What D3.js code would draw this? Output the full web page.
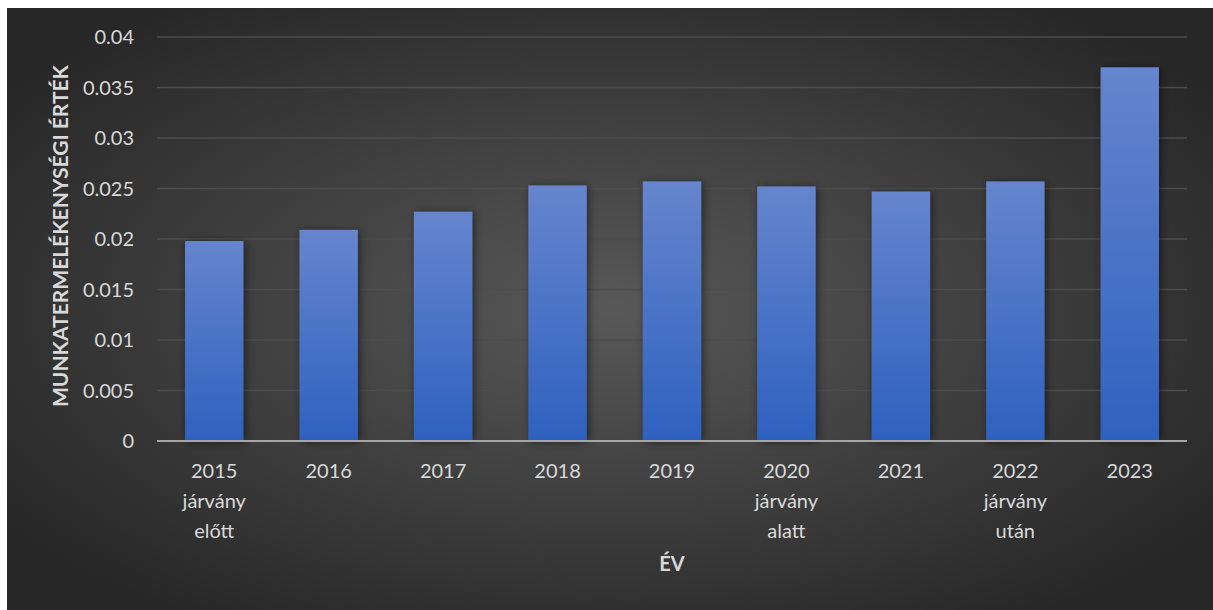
<!DOCTYPE html>
<html>
<head>
<meta charset="utf-8">
<script src="https://cdn.jsdelivr.net/npm/d3@7"></script>
<style>
  body { margin: 0; background: #fff; }
  svg { display: block; font-family: Lato, "Open Sans", sans-serif; }
</style>
</head>
<body>
<svg id="chart" width="1213" height="610"></svg>
<script>
// chart data
var categories = [
  ['2015', 'járvány', 'előtt'],
  ['2016'],
  ['2017'],
  ['2018'],
  ['2019'],
  ['2020', 'járvány', 'alatt'],
  ['2021'],
  ['2022', 'járvány', 'után'],
  ['2023']
];
var values = [0.0198, 0.0209, 0.0227, 0.0253, 0.0257, 0.0252, 0.0247, 0.0257, 0.0370];
var yTicks = [0, 0.005, 0.01, 0.015, 0.02, 0.025, 0.03, 0.035, 0.04];
var yTitle = 'MUNKATERMELÉKENYSÉGI ÉRTÉK';
var xTitle = 'ÉV';

var svg = d3.select('#chart');
var defs = svg.append('defs');

var bg = defs.append('radialGradient').attr('id', 'bg')
  .attr('cx', '50%').attr('cy', '50%').attr('r', '62%');
bg.append('stop').attr('offset', '0%').attr('stop-color', '#585858');
bg.append('stop').attr('offset', '100%').attr('stop-color', '#272727');

var barGrad = defs.append('linearGradient').attr('id', 'bar')
  .attr('x1', 0).attr('y1', 0).attr('x2', 0).attr('y2', 1);
barGrad.append('stop').attr('offset', '0%').attr('stop-color', '#6685cd');
barGrad.append('stop').attr('offset', '100%').attr('stop-color', '#2e61bf');

var shadow = defs.append('filter').attr('id', 'shadow')
  .attr('x', '-30%').attr('y', '-10%').attr('width', '160%').attr('height', '120%');
shadow.append('feGaussianBlur').attr('in', 'SourceAlpha').attr('stdDeviation', 4).attr('result', 'b');
shadow.append('feOffset').attr('in', 'b').attr('dx', 2).attr('dy', 1).attr('result', 'o');
shadow.append('feComponentTransfer').attr('in', 'o').attr('result', 's')
  .append('feFuncA').attr('type', 'linear').attr('slope', 0.5);
var merge = shadow.append('feMerge');
merge.append('feMergeNode').attr('in', 's');
merge.append('feMergeNode').attr('in', 'SourceGraphic');

svg.append('rect')
  .attr('x', 7).attr('y', 8).attr('width', 1206).attr('height', 602)
  .attr('fill', 'url(#bg)');

var plotLeft = 157, plotRight = 1187, plotTop = 37, plotBottom = 441;

var x = d3.scaleBand()
  .domain(categories.map(function (c) { return c[0]; }))
  .range([plotLeft, plotRight])
  .paddingInner(0.49)
  .paddingOuter(0.245);

var y = d3.scaleLinear().domain([0, 0.04]).range([plotBottom, plotTop]);

// gridlines
svg.append('g')
  .selectAll('line')
  .data(yTicks.filter(function (t) { return t > 0; }))
  .enter().append('line')
  .attr('x1', plotLeft).attr('x2', plotRight)
  .attr('y1', function (d) { return y(d); })
  .attr('y2', function (d) { return y(d); })
  .attr('stroke', '#4d4d4d')
  .attr('stroke-width', 1.5);

// y tick labels
svg.append('g')
  .selectAll('text')
  .data(yTicks)
  .enter().append('text')
  .attr('x', 134)
  .attr('y', function (d) { return y(d); })
  .attr('dy', '0.35em')
  .attr('text-anchor', 'end')
  .attr('fill', '#d9d9d9')
  .attr('font-size', 20)
  .text(function (d) { return String(+d.toFixed(3)); });

// bars
svg.append('g')
  .selectAll('rect')
  .data(values)
  .enter().append('rect')
  .attr('x', function (d, i) { return x(categories[i][0]); })
  .attr('y', function (d) { return y(d); })
  .attr('width', x.bandwidth())
  .attr('height', function (d) { return plotBottom - y(d); })
  .attr('fill', 'url(#bar)')
  .attr('filter', 'url(#shadow)');

// baseline
svg.append('line')
  .attr('x1', plotLeft).attr('x2', plotRight)
  .attr('y1', plotBottom).attr('y2', plotBottom)
  .attr('stroke', '#a6a6a6').attr('stroke-width', 2);

// x labels
var xl = svg.append('g')
  .selectAll('text')
  .data(categories)
  .enter().append('text')
  .attr('x', function (d) { return x(d[0]) + x.bandwidth() / 2; })
  .attr('y', 478)
  .attr('text-anchor', 'middle')
  .attr('fill', '#d9d9d9')
  .attr('font-size', 20);
xl.selectAll('tspan')
  .data(function (d) { return d; })
  .enter().append('tspan')
  .attr('x', function () { return d3.select(this.parentNode).attr('x'); })
  .attr('dy', function (d, i) { return i === 0 ? 0 : 30; })
  .text(function (d) { return d; });

// axis titles
svg.append('text')
  .attr('transform', 'translate(68,236) rotate(-90)')
  .attr('text-anchor', 'middle')
  .attr('fill', '#d9d9d9')
  .attr('font-size', 21)
  .attr('font-weight', 'bold')
  .text(yTitle);

svg.append('text')
  .attr('x', 672)
  .attr('y', 571)
  .attr('text-anchor', 'middle')
  .attr('fill', '#d9d9d9')
  .attr('font-size', 20)
  .attr('font-weight', 'bold')
  .text(xTitle);
</script>
</body>
</html>
